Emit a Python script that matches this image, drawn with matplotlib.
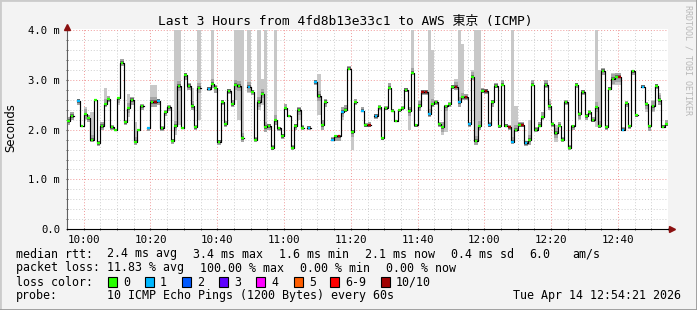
import numpy as np
import matplotlib
matplotlib.use('Agg')
import matplotlib.pyplot as plt
from matplotlib.patches import Rectangle
from matplotlib.lines import Line2D

nan = np.nan

# median rtt per minute (ms), 09:55 .. 12:54
median_ms = [
    2.18, 2.28, nan, 2.58, 2.07, 2.31, 2.23, 1.80, 2.60, 1.73,
    2.08, 2.51, 2.61, 2.05, 1.99, 2.63, 3.35, 2.15, 2.43, 2.60,
    1.76, 1.99, 2.47, nan, 2.04, 2.56, 2.56, 2.58, 2.03, 2.35,
    2.45, 1.78, 2.08, 2.88, 2.03, 3.10, 2.88, 2.48, 2.05, 2.85,
    nan, nan, 2.83, 2.93, 2.85, 1.76, 2.56, 2.11, 2.78, 2.51,
    2.91, 2.88, 1.83, nan, 2.87, 2.77, 1.80, 2.56, 2.73, 2.06,
    2.08, 1.63, 2.19, 2.03, 1.87, 2.43, 2.28, 1.64, 2.08, 2.40,
    2.04, nan, 2.04, nan, 2.96, 2.68, 2.09, 2.56, nan, 1.80,
    1.87, 1.87, 2.36, 2.40, 3.23, 1.95, 2.55, nan, 2.38, 2.09,
    2.09, nan, 2.28, 2.45, 1.83, 2.43, 2.85, 2.38, 2.18, 2.39,
    2.43, 2.80, 2.38, 3.15, 2.10, 2.48, 2.76, 2.76, 2.31, 2.51,
    2.55, 2.11, 2.05, 2.47, 2.51, 2.86, 2.87, 2.55, 2.65, 2.65,
    2.11, 3.07, 1.78, 2.07, 2.78, 2.78, 2.10, 2.56, 2.88, 2.07,
    2.91, 2.08, 2.05, 1.76, 2.00, 2.10, 2.10, 1.73, 1.79, 2.91,
    2.00, 2.08, 2.25, 2.90, 2.48, 2.11, 1.93, 2.08, 1.80, 2.55,
    1.64, 2.07, 2.91, 2.31, 2.76, 2.28, 2.35, 2.19, 2.45, 2.07,
    3.19, 2.05, 2.83, 3.03, 3.07, 3.07, 2.00, 2.53, 2.08, 3.18,
    2.29, nan, 2.87, 2.51, 2.07, 2.47, 2.88, 2.60, 2.06, 2.11,
]

# ping spread per minute: (sample, lowest, highest) in ms, 4.0 = off the scale
smoke = [
    (0, 2.1, 2.25), (1, 2.2, 2.35), (3, 2.5, 2.62), (5, 2.2, 2.45), (6, 2.15, 2.3),
    (7, 1.75, 2.35), (9, 1.68, 1.78), (10, 2.0, 2.15), (11, 2.45, 2.84), (12, 2.55, 2.68),
    (13, 2.0, 2.1), (15, 2.5, 2.65), (16, 3.28, 3.42), (17, 2.1, 2.2), (18, 2.25, 2.72),
    (19, 2.5, 2.65), (20, 1.7, 2.15), (22, 2.4, 2.52), (24, 1.98, 2.06), (25, 2.45, 2.9),
    (26, 2.45, 2.9), (27, 2.5, 2.62), (28, 1.98, 2.08), (29, 2.28, 2.4), (30, 2.38, 2.5),
    (31, 1.72, 1.82), (32, 1.9, 4.0), (33, 2.1, 4.0), (35, 3.0, 3.15), (36, 2.8, 2.95),
    (37, 2.4, 2.85), (38, 2.0, 2.1), (39, 2.2, 4.0), (42, 2.78, 2.86), (43, 2.85, 4.0),
    (44, 2.75, 2.9), (45, 1.7, 1.8), (46, 2.5, 2.6), (47, 2.05, 2.18), (48, 2.72, 2.82),
    (49, 2.45, 2.6), (50, 2.6, 4.0), (51, 2.2, 4.0), (52, 1.75, 4.0), (54, 2.75, 4.0),
    (55, 2.7, 2.8), (56, 1.75, 1.85), (57, 2.4, 4.0), (58, 2.5, 3.03), (59, 1.95, 4.0),
    (60, 2.0, 2.12), (61, 1.6, 1.7), (62, 2.1, 4.0), (63, 1.98, 2.06), (64, 1.82, 1.92),
    (65, 2.4, 2.52), (66, 2.25, 2.3), (67, 1.6, 1.7), (68, 2.0, 2.12), (69, 2.2, 2.45),
    (70, 2.0, 2.1), (72, 2.0, 2.08), (74, 2.9, 3.0), (75, 2.3, 3.12), (76, 2.0, 2.2),
    (77, 2.45, 2.62), (79, 1.78, 1.85), (80, 1.78, 1.9), (81, 1.78, 1.9), (82, 2.2, 2.45),
    (83, 2.35, 2.5), (84, 3.2, 3.28), (85, 1.6, 2.0), (86, 2.5, 2.62), (88, 2.35, 2.45),
    (89, 2.05, 2.13), (90, 2.05, 2.15), (92, 2.22, 2.32), (93, 2.4, 2.5), (94, 1.8, 1.86),
    (95, 2.4, 2.48), (96, 2.8, 2.95), (97, 2.35, 2.42), (98, 2.15, 2.2), (99, 2.35, 2.42),
    (100, 2.4, 2.48), (101, 2.76, 2.85), (102, 2.0, 2.45), (103, 3.1, 4.0), (104, 2.05, 2.12),
    (105, 2.38, 2.6), (106, 2.7, 2.8), (107, 2.7, 2.8), (108, 2.25, 4.0), (109, 2.45, 3.61),
    (110, 2.5, 2.6), (111, 2.05, 2.15), (112, 1.9, 2.15), (113, 1.95, 2.5), (114, 2.45, 2.55),
    (115, 2.82, 2.9), (116, 2.8, 3.02), (117, 2.45, 4.0), (118, 2.6, 3.72), (119, 2.6, 2.72),
    (120, 2.05, 2.15), (121, 3.0, 3.2), (122, 1.7, 4.0), (123, 2.0, 4.0), (124, 2.75, 2.85),
    (125, 2.72, 2.82), (126, 2.05, 2.15), (127, 2.45, 2.6), (128, 2.85, 2.95), (129, 2.03, 2.1),
    (130, 2.88, 3.0), (131, 2.05, 2.12), (132, 2.0, 2.1), (133, 1.72, 4.0), (134, 1.95, 2.47),
    (135, 2.05, 2.15), (136, 2.05, 2.15), (137, 1.68, 1.78), (138, 1.7, 2.2), (139, 2.88, 3.0),
    (140, 1.95, 2.05), (141, 2.05, 2.15), (142, 2.2, 2.35), (143, 2.85, 3.0), (144, 2.4, 2.62),
    (145, 2.05, 2.15), (146, 1.75, 2.1), (147, 2.05, 2.15), (148, 1.75, 1.85), (149, 2.5, 2.6),
    (150, 1.6, 1.7), (151, 2.0, 2.1), (152, 2.85, 2.95), (153, 2.2, 2.35), (154, 2.7, 2.8),
    (155, 2.2, 2.32), (156, 2.3, 2.4), (157, 2.15, 2.25), (158, 2.05, 4.0), (159, 2.03, 3.21),
    (160, 3.1, 3.25), (161, 2.0, 2.1), (162, 2.8, 2.87), (163, 2.9, 3.15), (164, 2.9, 3.15),
    (165, 2.9, 3.15), (166, 1.97, 2.05), (167, 2.45, 2.57), (168, 2.02, 2.1), (169, 3.1, 3.2),
    (170, 2.25, 2.32), (172, 2.85, 2.9), (173, 2.35, 2.55), (174, 1.98, 2.1), (175, 2.35, 2.6),
    (176, 2.83, 2.93), (177, 2.5, 2.75), (178, 2.03, 2.1), (179, 2.08, 2.2),
]

# loss class per minute where not 0 (index into loss_colors)
loss = {3: 1, 24: 1, 27: 1, 42: 1, 54: 1, 72: 1, 74: 1, 79: 1, 82: 1, 88: 1,
        92: 1, 108: 1, 117: 1, 120: 1, 126: 1, 133: 1, 137: 1, 166: 1, 172: 1,
        26: 7, 81: 7, 90: 7, 106: 7, 107: 7, 116: 7, 119: 7, 125: 7, 132: 7,
        136: 7, 165: 7}

loss_colors = ['#26ff00', '#00b8ff', '#0059ff', '#5e00ff', '#ff00ff', '#ff5e00', '#ff0000', '#a00000']
loss_labels = ['0', '1', '2', '3', '4', '5', '6-9', '10/10']

tick_minutes = [5, 25, 45, 65, 85, 105, 125, 145, 165]
tick_labels = ['10:00', '10:20', '10:40', '11:00', '11:20', '11:40', '12:00', '12:20', '12:40']
y_ticks = [0, 1, 2, 3, 4]
y_labels = ['0.0', '1.0 m', '2.0 m', '3.0 m', '4.0 m']

MONO = 'DejaVu Sans Mono'
W, H = 697, 310

med = np.array(median_ms)
n = len(med)

fig = plt.figure(figsize=(W / 100, H / 100), dpi=100, facecolor='#f3f3f3')
ax = fig.add_axes([67 / W, 1 - 229 / H, 601 / W, 200 / H])
ax.set_facecolor('white')

# smoke: light outer spread, darker core around the median
s_idx = np.array([s[0] for s in smoke])
s_lo = np.array([s[1] for s in smoke])
s_hi = np.array([s[2] for s in smoke])
s_med = med[s_idx]
ax.bar(s_idx, s_hi - s_lo, bottom=s_lo, width=1, align='edge', color='#c8c8c8', lw=0, zorder=2)
m_lo = np.maximum(s_lo, s_med - 0.1)
m_hi = np.minimum(s_hi, s_med + 0.1)
ax.bar(s_idx, m_hi - m_lo, bottom=m_lo, width=1, align='edge', color='#a4a4a4', lw=0, zorder=2)
d_lo = np.maximum(s_lo, s_med - 0.035)
d_hi = np.minimum(s_hi, s_med + 0.035)
ax.bar(s_idx, d_hi - d_lo, bottom=d_lo, width=1, align='edge', color='#666666', lw=0, zorder=2)

# median line
edges = np.arange(n + 1)
ax.step(edges, np.append(med, med[-1]), where='post', color='black', lw=0.85, zorder=3)
cols = [loss_colors[loss.get(i, 0)] for i in range(n)]
ax.hlines(med, edges[:-1] + 0.1, edges[1:] - 0.1, colors=cols, lw=1.6, zorder=4)

ax.set_xlim(0, n)
ax.set_ylim(0, 4.03)
ax.set_xticks(tick_minutes)
ax.set_xticklabels(tick_labels, fontfamily=MONO, fontsize=7.8)
ax.set_xticks(np.arange(0, n + 1, 5), minor=True)
ax.set_yticks(y_ticks)
ax.set_yticklabels(y_labels, fontfamily=MONO, fontsize=7.6)
ax.set_yticks(np.arange(0, 4.01, 0.2), minor=True)
ax.tick_params(which='both', length=2, direction='inout', colors='#444444', pad=4)
ax.tick_params(axis='x', pad=3)
for lab in ax.get_xticklabels() + ax.get_yticklabels():
    lab.set_color('black')

ax.grid(which='minor', color='#cfcfcf', linestyle=(0, (1, 2)), lw=0.7)
ax.grid(which='major', color='#f09a9a', linestyle=(0, (1, 2)), lw=0.7)
ax.set_axisbelow(True)

for side in ['top', 'right']:
    ax.spines[side].set_visible(False)
ax.spines['left'].set_color('#606060')
ax.spines['bottom'].set_color('black')
ax.plot(0, 1.01, marker='^', ms=4.5, color='#8b1010', transform=ax.transAxes, clip_on=False, zorder=6)
ax.plot(1.006, 0, marker='>', ms=4.5, color='#8b1010', transform=ax.transAxes, clip_on=False, zorder=6)

# texts
fig.text(345 / W, 1 - 21 / H, 'Last 3 Hours from 4fd8b13e33c1 to AWS 東京 (ICMP)',
         family=[MONO, 'Noto Sans CJK JP'], fontsize=9.3, ha='center', va='center')
fig.text(11 / W, 1 - 128 / H, 'Seconds', rotation=90, fontsize=8.4, ha='center', va='center')
fig.text(688 / W, 1 - 5 / H, 'RRDTOOL / TOBI OETIKER', rotation=270, family=MONO,
         fontsize=6, color='#b8b8b8', ha='center', va='top')

def line(x, y, s):
    fig.text(x / W, 1 - y / H, s, family=MONO, fontsize=8.4, ha='left', va='center')

line(16, 254, 'median rtt:')
for x, s in [(107, '2.4 ms avg'), (193, '3.4 ms max'), (279, '1.6 ms min'),
             (365, '2.1 ms now'), (451, '0.4 ms sd'), (529, '6.0'), (572, 'am/s')]:
    line(x, 254, s)
line(16, 268, 'packet loss:')
for x, s in [(107, '11.83 % avg'), (200, '100.00 % max'), (300, '0.00 % min'), (386, '0.00 % now')]:
    line(x, 268, s)
line(16, 282, 'loss color:')
sq_x = [108, 145, 182, 219, 256, 294, 330, 381]
for x, c, lab in zip(sq_x, loss_colors, loss_labels):
    fig.add_artist(Rectangle((x / W, 1 - 287 / H), 9 / W, 10 / H, transform=fig.transFigure,
                             facecolor=c, edgecolor='black', lw=0.8))
    line(x + 15, 282, lab)
line(16, 296, 'probe:')
line(107, 296, '10 ICMP Echo Pings (1200 Bytes) every 60s')
fig.text(681 / W, 1 - 296 / H, 'Tue Apr 14 12:54:21 2026', family=MONO, fontsize=8.4,
         ha='right', va='center')

# 3d frame
fig.add_artist(Line2D([0, 1], [1, 1], transform=fig.transFigure, color='#cbcbcb', lw=2))
fig.add_artist(Line2D([0, 0], [0, 1], transform=fig.transFigure, color='#cbcbcb', lw=2))
fig.add_artist(Line2D([0, 1], [0, 0], transform=fig.transFigure, color='#999999', lw=2))
fig.add_artist(Line2D([1, 1], [0, 1], transform=fig.transFigure, color='#999999', lw=2))

fig.savefig('out.png', dpi=100, facecolor=fig.get_facecolor())
